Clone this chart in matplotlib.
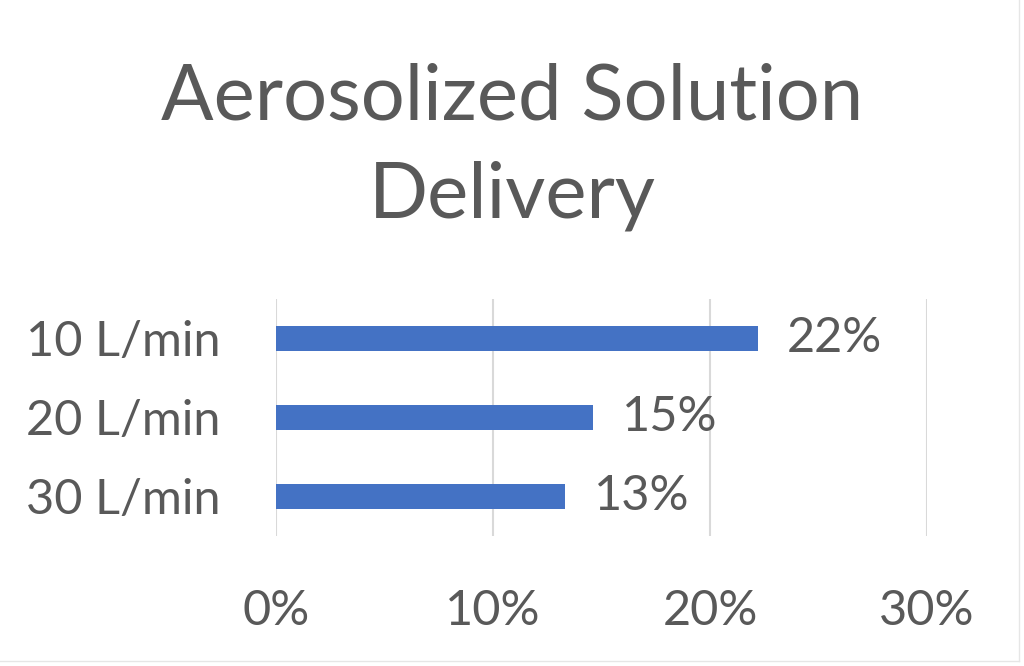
import matplotlib.pyplot as plt
from matplotlib.lines import Line2D

# data
categories = ["10 L/min", "20 L/min", "30 L/min"]
delivery = [0.222, 0.146, 0.133]
x_ticks = [0.0, 0.10, 0.20, 0.30]

plt.rcParams['font.family'] = ['Lato', 'DejaVu Sans']
text_col = "#595959"
bar_col = "#4472C4"
grid_col = "#D9D9D9"

fig = plt.figure(figsize=(10.24, 6.66), dpi=100)
ax = fig.add_axes([0.2695, 0.1952, 0.6357, 0.3559])

pos = range(len(categories))
ax.barh(pos, delivery, height=0.32, color=bar_col, zorder=3)

ax.set_xlim(0, 0.30)
ax.set_ylim(2.5, -0.5)
ax.set_yticks(list(pos))
ax.set_yticklabels(categories)
ax.set_xticks(x_ticks)
ax.set_xticklabels([f"{t:.0%}" for t in x_ticks])
ax.tick_params(axis='y', length=0, pad=40, labelsize=35, labelcolor=text_col)
ax.tick_params(axis='x', length=0, pad=38, labelsize=35, labelcolor=text_col)

ax.grid(axis='x', color=grid_col, linewidth=1.5, zorder=0)
for s in ax.spines.values():
    s.set_visible(False)

# valeurs au bout des barres
for i, v in enumerate(delivery):
    ax.annotate(f"{v:.0%}", (v, i), xytext=(21, 0), textcoords='offset points',
                va='center', ha='left', fontsize=35, color=text_col)

fig.text(0.5, 0.674, "Aerosolized Solution\nDelivery", ha='center', va='baseline',
         fontsize=56, color=text_col, linespacing=1.47)

# bordure légère
fig.add_artist(Line2D([0, 0.9951], [0.0075, 0.0075], transform=fig.transFigure, color="#E6E6E6", lw=1))
fig.add_artist(Line2D([0.9951, 0.9951], [0.0075, 1], transform=fig.transFigure, color="#E6E6E6", lw=1))

fig.savefig("out.png", dpi=100, facecolor="white")
